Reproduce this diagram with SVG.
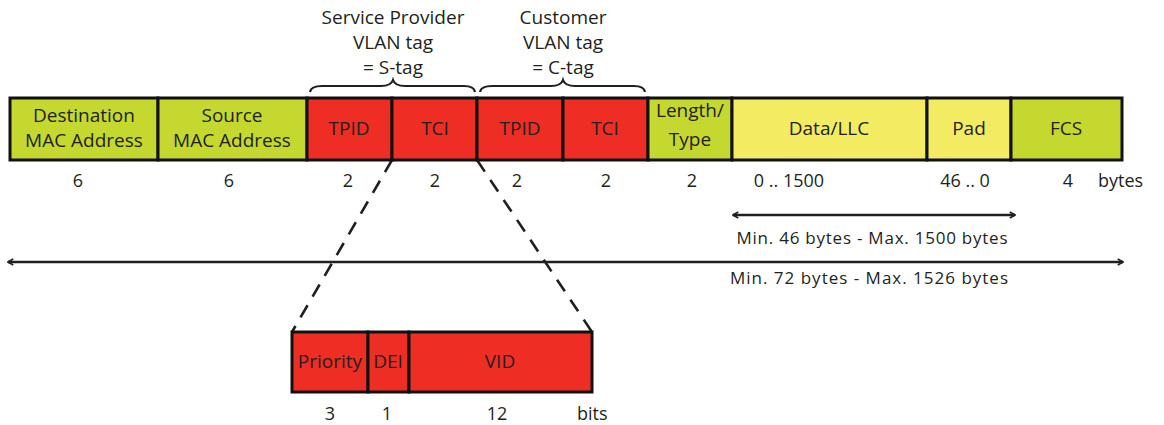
<svg xmlns="http://www.w3.org/2000/svg" width="1164" height="425" viewBox="0 0 1164 425">
<style>
  text { font-family: "Open Sans", "Liberation Sans", sans-serif; fill: #231f20; }
  .lbl { font-size: 19px; text-anchor: middle; }
  .num { font-size: 18px; text-anchor: middle; }
  .cap { font-size: 17px; text-anchor: middle; }
  .box { stroke: #111; stroke-width: 3; }
  .g { fill: #c4d82f; }
  .y { fill: #f3ec62; }
  .r { fill: #ee2e24; }
  .brace { fill: none; stroke: #231f20; stroke-width: 2.2; }
  .dash { fill: none; stroke: #231f20; stroke-width: 2.6; stroke-dasharray: 14 10; }
  .dim { fill: none; stroke: #231f20; stroke-width: 2.6; }
</style>
<defs>
  <marker id="ah" viewBox="0 0 10 10" refX="9" refY="5" markerWidth="7" markerHeight="8" orient="auto-start-reverse" markerUnits="userSpaceOnUse">
    <path d="M1.5,0.8 L9.3,5 L1.5,9.2" fill="none" stroke="#231f20" stroke-width="2.6"/>
  </marker>
</defs>

<g id="headers">
  <text class="lbl" x="393" y="24">Service Provider</text>
  <text class="lbl" x="393" y="49">VLAN tag</text>
  <text class="lbl" x="393" y="74">= S-tag</text>
  <text class="lbl" x="563" y="24">Customer</text>
  <text class="lbl" x="563" y="49">VLAN tag</text>
  <text class="lbl" x="563" y="74">= C-tag</text>
  <path class="brace" d="M310,92 Q311,86 322,86 L381,86 Q391,86 393,80 Q395,86 405,86 L464,86 Q474,86 475,92"/>
  <path class="brace" d="M480,92 Q481,86 492,86 L551,86 Q561,86 563,80 Q565,86 575,86 L634,86 Q644,86 645,92"/>
</g>

<g id="connectors">
  <path class="dash" d="M392,160 L292,332"/>
  <path class="dash" d="M477,160 L592,332"/>
  <line class="dim" x1="733" y1="215" x2="1015" y2="215" marker-start="url(#ah)" marker-end="url(#ah)"/>
  <line class="dim" x1="8" y1="262" x2="1123" y2="262" marker-start="url(#ah)" marker-end="url(#ah)"/>
</g>

<g id="frame">
  <g id="dest"><rect class="box g" x="10" y="98" width="148" height="62"/>
    <text class="lbl" x="84" y="122">Destination</text><text class="lbl" x="84" y="147">MAC Address</text></g>
  <g id="src"><rect class="box g" x="158" y="98" width="149" height="62"/>
    <text class="lbl" x="232" y="122">Source</text><text class="lbl" x="232" y="147">MAC Address</text></g>
  <g id="stpid"><rect class="box r" x="307" y="98" width="85" height="62"/>
    <text class="lbl" x="349" y="135">TPID</text></g>
  <g id="stci"><rect class="box r" x="392" y="98" width="85" height="62"/>
    <text class="lbl" x="435" y="135">TCI</text></g>
  <g id="ctpid"><rect class="box r" x="477" y="98" width="86" height="62"/>
    <text class="lbl" x="520" y="135">TPID</text></g>
  <g id="ctci"><rect class="box r" x="563" y="98" width="85" height="62"/>
    <text class="lbl" x="605" y="135">TCI</text></g>
  <g id="len"><rect class="box g" x="648" y="98" width="84" height="62"/>
    <text class="lbl" x="690" y="117">Length/</text><text class="lbl" x="690" y="146">Type</text></g>
  <g id="data"><rect class="box y" x="732" y="98" width="195" height="62"/>
    <text class="lbl" x="829" y="135">Data/LLC</text></g>
  <g id="pad"><rect class="box y" x="927" y="98" width="84" height="62"/>
    <text class="lbl" x="969" y="135">Pad</text></g>
  <g id="fcs"><rect class="box g" x="1011" y="98" width="111" height="62"/>
    <text class="lbl" x="1066" y="135">FCS</text></g>
</g>

<g id="sizes">
  <text class="num" x="78" y="187">6</text>
  <text class="num" x="229" y="187">6</text>
  <text class="num" x="348" y="187">2</text>
  <text class="num" x="435" y="187">2</text>
  <text class="num" x="517" y="187">2</text>
  <text class="num" x="606" y="187">2</text>
  <text class="num" x="692" y="187">2</text>
  <text class="num" x="789" y="187">0 .. 1500</text>
  <text class="num" x="965" y="187">46 .. 0</text>
  <text class="num" x="1068" y="187">4</text>
  <text class="num" x="1098" y="187" style="text-anchor:start">bytes</text>
  <text class="cap" x="872" y="244" textLength="271" lengthAdjust="spacing">Min. 46 bytes - Max. 1500 bytes</text>
  <text class="cap" x="869" y="284" textLength="278" lengthAdjust="spacing">Min. 72 bytes - Max. 1526 bytes</text>
</g>

<g id="tci">
  <g id="prio"><rect class="box r" x="292" y="332" width="76" height="60"/>
    <text class="lbl" x="330" y="368">Priority</text></g>
  <g id="dei"><rect class="box r" x="368" y="332" width="41" height="60"/>
    <text class="lbl" x="388" y="368">DEI</text></g>
  <g id="vid"><rect class="box r" x="409" y="332" width="183" height="60"/>
    <text class="lbl" x="500" y="368">VID</text></g>
  <text class="num" x="330" y="420">3</text>
  <text class="num" x="387" y="420">1</text>
  <text class="num" x="497" y="420">12</text>
  <text class="num" x="577" y="420" style="text-anchor:start">bits</text>
</g>
</svg>
